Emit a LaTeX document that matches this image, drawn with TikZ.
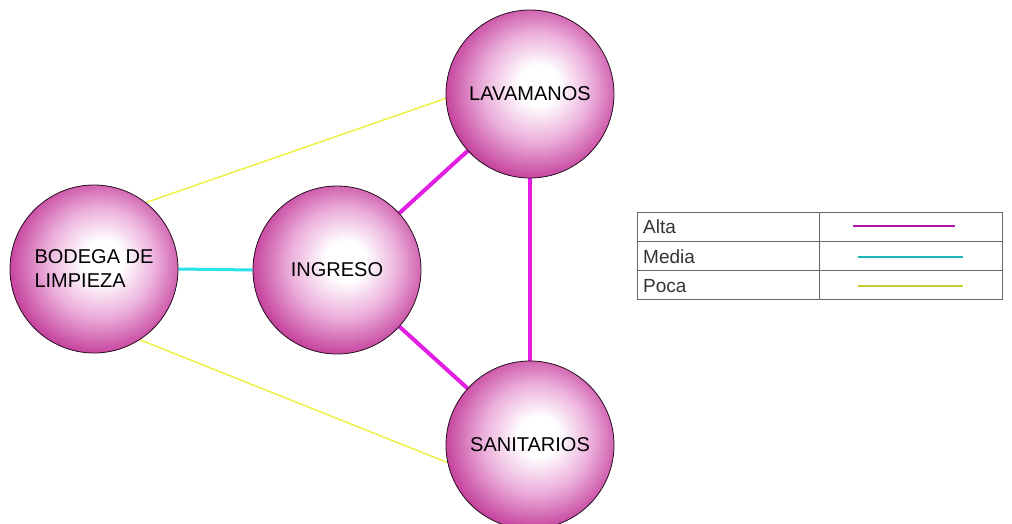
\documentclass[tikz,border=0pt]{standalone}
\usepackage{fontspec}
\setmainfont{Liberation Sans}
\usetikzlibrary{backgrounds}
\definecolor{ballc}{RGB}{196,64,156}
\definecolor{ballm}{RGB}{236,176,220}
\definecolor{alta}{RGB}{226,30,226}
\definecolor{media}{RGB}{40,226,236}
\definecolor{poca}{RGB}{240,240,70}
\definecolor{altaL}{RGB}{176,20,170}
\definecolor{mediaL}{RGB}{30,184,186}
\definecolor{pocaL}{RGB}{200,206,50}
\pgfdeclareradialshading{ball}{\pgfpoint{3bp}{3bp}}{color(0bp)=(white); color(6bp)=(white); color(16bp)=(ballm); color(27bp)=(ballc); color(50bp)=(ballc)}
\tikzset{
  room/.style={circle, minimum size=168pt, inner sep=0pt, draw=black!80!ballc, line width=0.8pt, shading=ball, font=\fontsize{20}{24}\selectfont},
  altaline/.style={alta, line width=4pt},
  medialine/.style={media, line width=3pt},
  pocaline/.style={poca, line width=1.5pt},
  legtext/.style={anchor=west, inner sep=0pt, font=\fontsize{19}{22}\selectfont, text=black!80},
  legcell/.style={draw=black!60, line width=0.6pt}
}
\begin{document}
\begin{tikzpicture}[x=1pt,y=-1pt]
\useasboundingbox (0,0) rectangle (1012,523);
\node[room] (l) at (530,94) {LAVAMANOS};
\node[room] (s) at (530,445) {SANITARIOS};
\node[room, align=left] (b) at (94,269) {BODEGA DE\\LIMPIEZA};
\node[room] (i) at (337,270) {INGRESO};
\begin{scope}[on background layer]
\draw[pocaline] (b.52) -- (l.183);
\draw[pocaline] (b.-57) -- (s.192);
\draw[medialine] (b.east) -- (i.west);
\draw[altaline] (i) -- (l);
\draw[altaline] (i) -- (s);
\draw[altaline] (l) -- (s);
\end{scope}
% legend
\coordinate (t1) at (637,212);
\coordinate (t2) at (1002,299);
\draw[legcell] (t1) rectangle (t2);
\coordinate (m1) at (819,212);
\coordinate (m2) at (819,299);
\draw[legcell] (m1) -- (m2);
\coordinate (r1a) at (637,241);
\coordinate (r1b) at (1002,241);
\coordinate (r2a) at (637,270);
\coordinate (r2b) at (1002,270);
\draw[legcell] (r1a) -- (r1b);
\draw[legcell] (r2a) -- (r2b);
\node[legtext] (ta) at (643,227) {Alta};
\node[legtext] (tm) at (643,257) {Media};
\node[legtext] (tp) at (643,286) {Poca};
\coordinate (a1) at (853,226);
\coordinate (a2) at (955,226);
\coordinate (b1) at (858,257);
\coordinate (b2) at (963,257);
\coordinate (c1) at (858,286);
\coordinate (c2) at (963,286);
\draw[altaL, line width=2.5pt] (a1) -- (a2);
\draw[mediaL, line width=2.5pt] (b1) -- (b2);
\draw[pocaL, line width=1.8pt] (c1) -- (c2);
\end{tikzpicture}
\end{document}
